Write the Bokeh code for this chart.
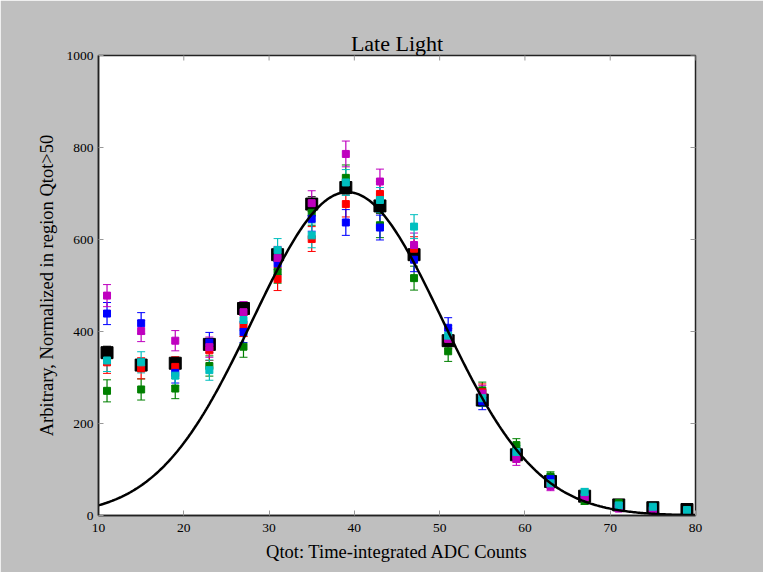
import numpy as np
from bokeh.plotting import figure
from bokeh.models import ColumnDataSource, Whisker, TeeHead, Range1d, FixedTicker
from bokeh.embed import file_html
from bokeh.resources import INLINE

# ---- data ----
qtot = [11, 15, 19, 23, 27, 31, 35, 39, 43, 47, 51, 55, 59, 63, 67, 71, 75, 79]

blue    = [439, 418, 310, 376, 399, 548, 645, 637, 626, 556, 408, 248, 134, 79, 42, 20, 13, 10]
green   = [271, 274, 276, 325, 367, 530, 658, 734, 631, 516, 357, 272, 153, 85, 32, 27, 12, 9]
red     = [333, 320, 323, 359, 412, 514, 601, 677, 699, 580, 385, 268, 130, 72, 40, 18, 11, 9]
cyan    = [337, 333, 304, 316, 425, 577, 609, 724, 686, 628, 391, 255, 138, 70, 51, 22, 19, 12]
magenta = [478, 401, 380, 366, 442, 560, 679, 786, 726, 588, 384, 265, 123, 64, 39, 15, 10, 9]
black   = [354, 327, 331, 372, 450, 567, 677, 713, 673, 567, 380, 251, 132, 74, 42, 23, 17, 13]

err_colored = [24, 23, 22, 22, 23, 25, 27, 28, 27, 26, 22, 18, 14, 10, 8, 6, 5, 4]
err_black   = [14, 13, 13, 13, 14, 15, 16, 16, 16, 15, 13, 10, 8, 6, 5, 4, 3, 3]

# Gaussian fit parameters
fit_amp = 703.0
fit_mu = 39.2
fit_sigma = 11.1

x_min, x_max = 10, 80
y_min, y_max = 0, 1000
x_ticks = [10, 20, 30, 40, 50, 60, 70, 80]
y_ticks = [0, 200, 400, 600, 800, 1000]

SERIF = "Liberation Serif"
TICK_COLOR = "#999999"

p = figure(
    frame_width=597, frame_height=460,
    min_border_left=98, min_border_right=68, min_border_top=55, min_border_bottom=57,
    x_range=Range1d(x_min, x_max), y_range=Range1d(y_min, y_max),
    output_backend="svg", toolbar_location=None,
    background_fill_color="white", border_fill_color="#bfbfbf",
    title="Late Light",
)
p.grid.visible = False
p.outline_line_color = "#222222"
p.outline_line_width = 1.5

p.title.align = "center"
p.title.text_font = SERIF
p.title.text_font_size = "22px"
p.title.text_font_style = "normal"
p.title.text_color = "black"
p.title.standoff = 0

for ax in (p.xaxis[0], p.yaxis[0]):
    ax.major_tick_in = 5
    ax.major_tick_out = 0
    ax.minor_tick_line_color = None
    ax.major_tick_line_color = TICK_COLOR
    ax.axis_line_color = "#222222"
    ax.axis_line_width = 1.5
    ax.major_label_text_font = SERIF
    ax.major_label_text_font_size = "13.5px"
    ax.major_label_text_color = "black"
    ax.axis_label_text_font = SERIF
    ax.axis_label_text_font_size = "18.5px"
    ax.axis_label_text_font_style = "normal"
    ax.axis_label_text_color = "black"

p.xaxis[0].ticker = FixedTicker(ticks=x_ticks)
p.yaxis[0].ticker = FixedTicker(ticks=y_ticks)
p.xaxis[0].axis_label = "Qtot: Time-integrated ADC Counts"
p.yaxis[0].axis_label = "Arbitrary, Normalized in region Qtot>50"
p.xaxis[0].major_label_standoff = 8
p.yaxis[0].major_label_standoff = 5
p.xaxis[0].axis_label_standoff = 7
p.yaxis[0].axis_label_standoff = 7

# mirrored inward ticks on top and right edges (dash markers, clipped to the frame)
p.scatter(x=x_ticks, y=[y_max] * len(x_ticks), marker="dash", angle=np.pi / 2,
          size=10, line_color=TICK_COLOR, line_width=1)
p.scatter(x=[x_max] * len(y_ticks), y=y_ticks, marker="dash",
          size=10, line_color=TICK_COLOR, line_width=1)

def add_series(vals, errs, color, size, fill=None):
    src = ColumnDataSource(dict(
        x=qtot, y=vals,
        lo=[v - e for v, e in zip(vals, errs)],
        hi=[v + e for v, e in zip(vals, errs)],
    ))
    w = Whisker(source=src, base="x", lower="lo", upper="hi",
                line_color=color, line_width=1.2,
                upper_head=TeeHead(size=8, line_color=color, line_width=1),
                lower_head=TeeHead(size=8, line_color=color, line_width=1))
    p.add_layout(w)
    p.scatter("x", "y", source=src, marker="square", size=size,
              fill_color=fill if fill else color, line_color=color)

add_series(black, err_black, "black", 12, fill="black")
add_series(green, err_colored, "#008000", 7)
add_series(red, err_colored, "#ff0000", 7)
add_series(blue, err_colored, "#0000ff", 7)
add_series(magenta, err_colored, "#bf00bf", 7)
add_series(cyan, err_colored, "#00bfbf", 7)

xs = np.linspace(x_min, x_max, 400)
ys = fit_amp * np.exp(-(xs - fit_mu) ** 2 / (2 * fit_sigma ** 2))
p.line(xs, ys, line_color="black", line_width=2.5)

open("out.html", "w").write(file_html(p, INLINE))
